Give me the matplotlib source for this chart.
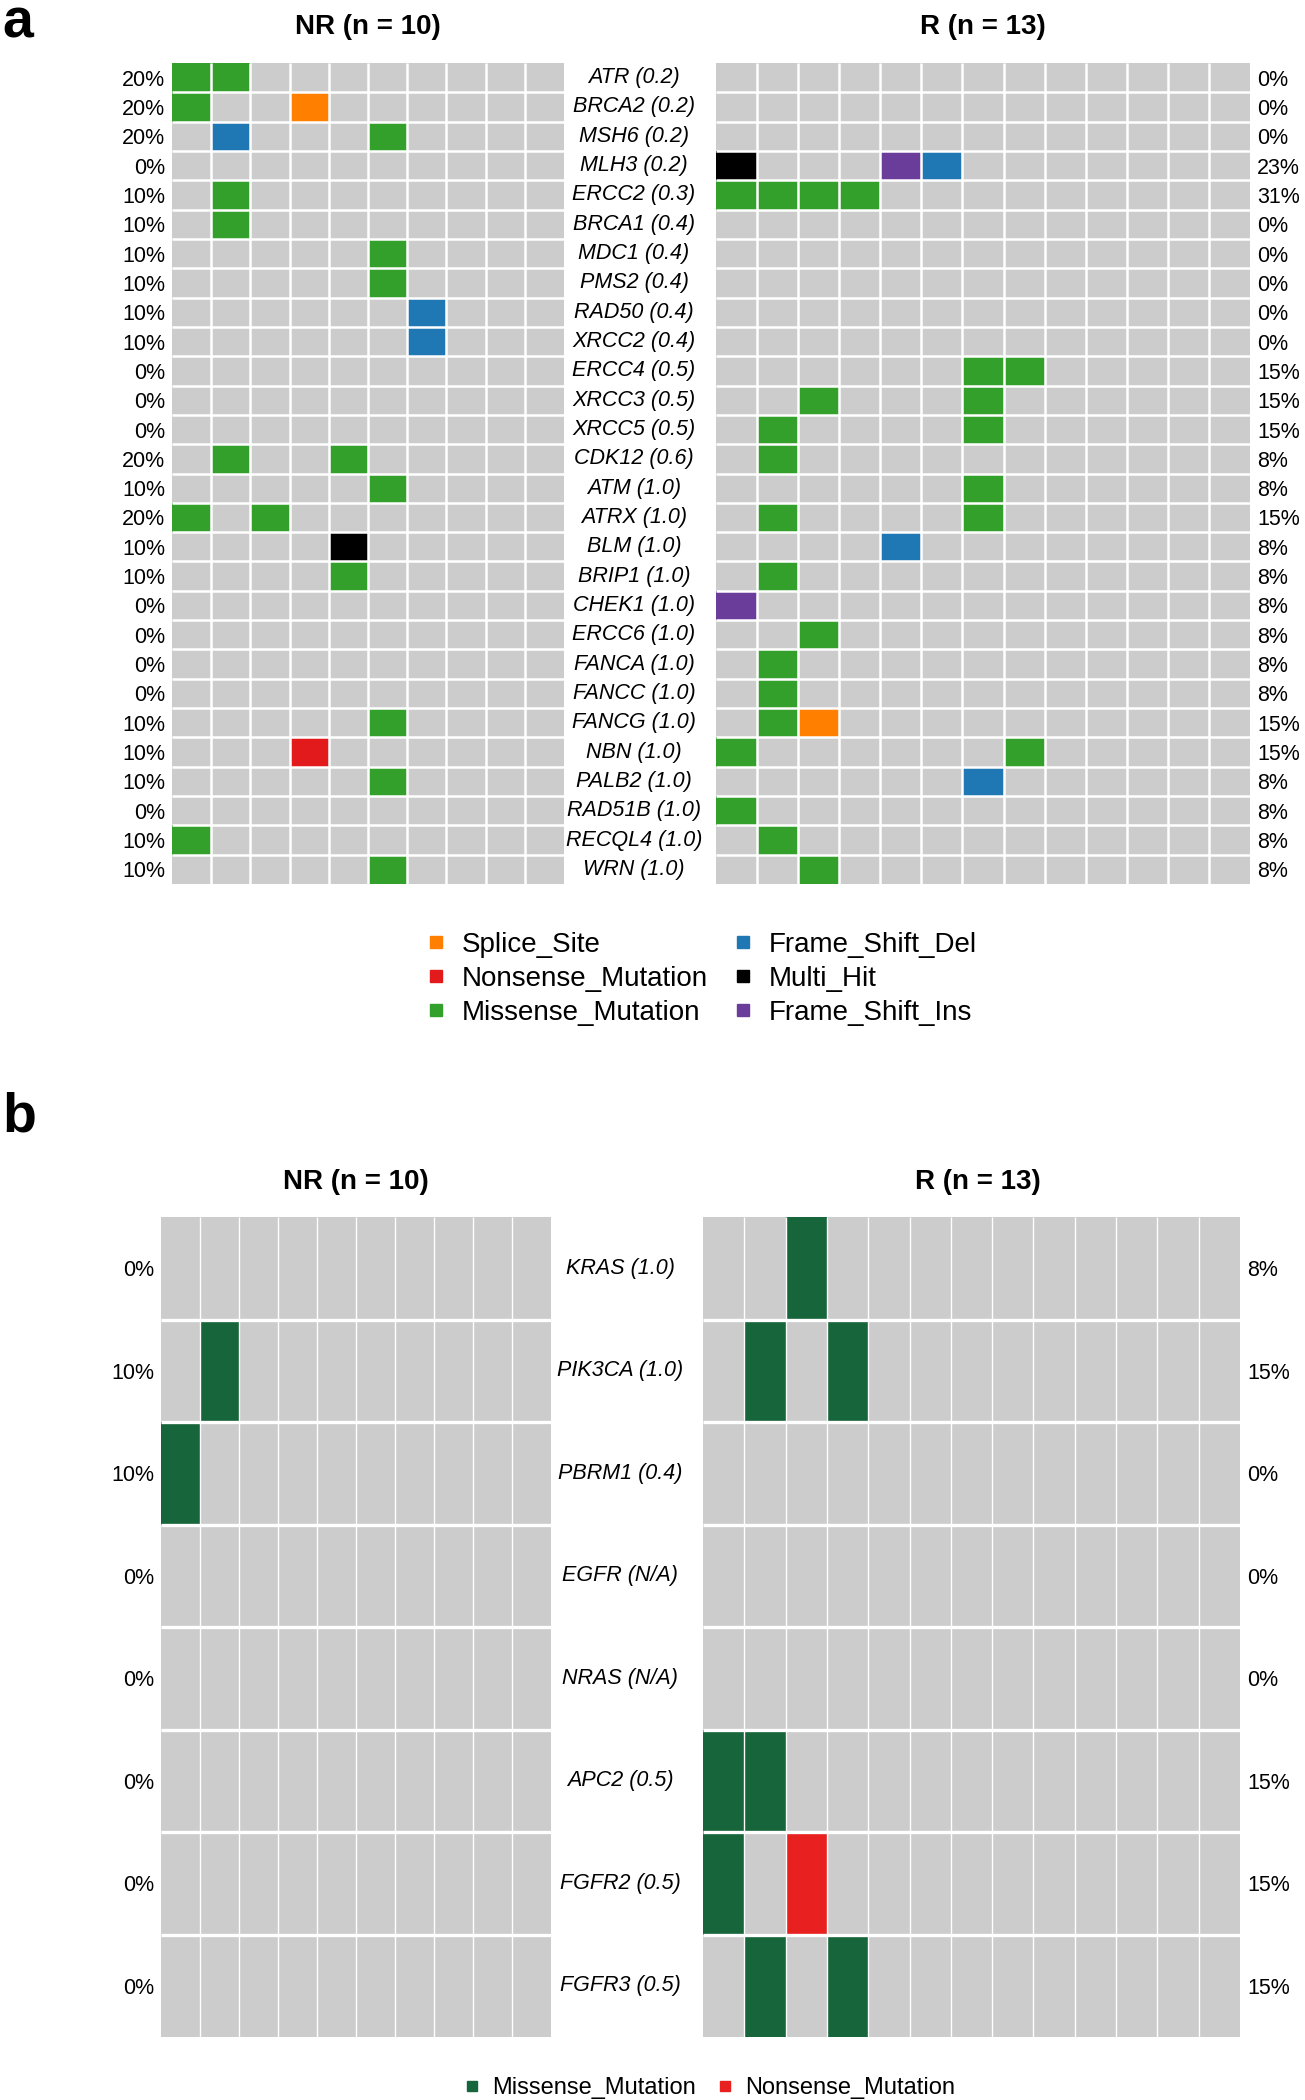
import matplotlib
matplotlib.use('Agg')
import matplotlib.pyplot as plt
import numpy as np
from matplotlib.colors import ListedColormap, BoundaryNorm
from matplotlib.lines import Line2D

plt.rcParams['font.family'] = ['Liberation Sans', 'DejaVu Sans']

W, H = 1305, 2100

# ---- panel a: DNA damage repair genes ----
genes_a = ['ATR (0.2)', 'BRCA2 (0.2)', 'MSH6 (0.2)', 'MLH3 (0.2)', 'ERCC2 (0.3)',
           'BRCA1 (0.4)', 'MDC1 (0.4)', 'PMS2 (0.4)', 'RAD50 (0.4)', 'XRCC2 (0.4)',
           'ERCC4 (0.5)', 'XRCC3 (0.5)', 'XRCC5 (0.5)', 'CDK12 (0.6)', 'ATM (1.0)',
           'ATRX (1.0)', 'BLM (1.0)', 'BRIP1 (1.0)', 'CHEK1 (1.0)', 'ERCC6 (1.0)',
           'FANCA (1.0)', 'FANCC (1.0)', 'FANCG (1.0)', 'NBN (1.0)', 'PALB2 (1.0)',
           'RAD51B (1.0)', 'RECQL4 (1.0)', 'WRN (1.0)']

# one string per gene, one char per patient
# . none, S splice, N nonsense, M missense, D frame shift del, H multi hit, I frame shift ins
nr_a = ['MM........', 'M..S......', '.D...M....', '..........', '.M........',
        '.M........', '.....M....', '.....M....', '......D...', '......D...',
        '..........', '..........', '..........', '.M..M.....', '.....M....',
        'M.M.......', '....H.....', '....M.....', '..........', '..........',
        '..........', '..........', '.....M....', '...N......', '.....M....',
        '..........', 'M.........', '.....M....']
r_a = ['.............', '.............', '.............', 'H...ID.......', 'MMMM.........',
       '.............', '.............', '.............', '.............', '.............',
       '......MM.....', '..M...M......', '.M....M......', '.M...........', '......M......',
       '.M....M......', '....D........', '.M...........', 'I............', '..M..........',
       '.M...........', '.M...........', '.MS..........', 'M......M.....', '......D......',
       'M............', '.M...........', '..M..........']

codes_a = ['.', 'S', 'N', 'M', 'D', 'H', 'I']
colors_a = ['#CCCCCC', '#FF7F00', '#E31A1C', '#33A02C', '#1F78B4', '#000000', '#6A3D9A']
legend_a = ['Splice_Site', 'Nonsense_Mutation', 'Missense_Mutation',
            'Frame_Shift_Del', 'Multi_Hit', 'Frame_Shift_Ins']
legend_a_codes = ['S', 'N', 'M', 'D', 'H', 'I']

# ---- panel b ----
genes_b = ['KRAS (1.0)', 'PIK3CA (1.0)', 'PBRM1 (0.4)', 'EGFR (N/A)',
           'NRAS (N/A)', 'APC2 (0.5)', 'FGFR2 (0.5)', 'FGFR3 (0.5)']
nr_b = ['..........', '.M........', 'M.........', '..........',
        '..........', '..........', '..........', '..........']
r_b = ['..M..........', '.M.M.........', '.............', '.............',
       '.............', 'MM...........', 'M.N..........', '.M.M.........']

codes_b = ['.', 'M', 'N']
colors_b = ['#CCCCCC', '#17653A', '#E8201F']
legend_b = ['Missense_Mutation', 'Nonsense_Mutation']
legend_b_codes = ['M', 'N']


def box(x0, y0, x1, y1):
    return [x0 / W, 1 - y1 / H, (x1 - x0) / W, (y1 - y0) / H]


def draw_grid(ax, rows, codes, colors, hlw, vlw, fs, right=False):
    mat = np.array([[codes.index(c) for c in r] for r in rows])
    cmap = ListedColormap(colors)
    norm = BoundaryNorm(np.arange(len(colors) + 1) - 0.5, len(colors))
    ax.pcolormesh(mat, cmap=cmap, norm=norm)
    nrow, ncol = mat.shape
    ax.set_xlim(0, ncol)
    ax.set_ylim(nrow, 0)
    ax.vlines(np.arange(1, ncol), 0, nrow, color='white', lw=vlw)
    ax.hlines(np.arange(1, nrow), 0, ncol, color='white', lw=hlw)
    for s in ax.spines.values():
        s.set_visible(False)
    ax.set_xticks([])
    pct = (mat > 0).sum(axis=1) / ncol * 100
    ax.set_yticks(np.arange(nrow) + 0.5)
    ax.set_yticklabels([f'{p:.0f}%' for p in pct], fontsize=fs)
    if right:
        ax.yaxis.tick_right()
    ax.tick_params(length=0, pad=5)


fig = plt.figure(figsize=(W / 100, H / 100), dpi=100)

# panel a
ax1 = fig.add_axes(box(172, 63, 564, 884))
ax2 = fig.add_axes(box(716, 63, 1250, 884))
draw_grid(ax1, nr_a, codes_a, colors_a, 1.8, 1.8, 15.5)
draw_grid(ax2, r_a, codes_a, colors_a, 1.8, 1.8, 15.5, right=True)
for i, g in enumerate(genes_a):
    ax1.text((634 - 172) / 392, i + 0.5, g, transform=ax1.get_yaxis_transform(),
             ha='center', va='center', style='italic', fontsize=15.5)
fig.text(368 / W, 1 - 27 / H, 'NR (n = 10)', ha='center', va='center', fontsize=20, fontweight='bold')
fig.text(983 / W, 1 - 27 / H, 'R (n = 13)', ha='center', va='center', fontsize=20, fontweight='bold')
fig.text(0.002, 1 - 38 / H, 'a', ha='left', va='baseline', fontsize=40, fontweight='bold')

handles = [Line2D([], [], marker='s', linestyle='', markersize=8,
                  color=colors_a[codes_a.index(c)]) for c in legend_a_codes]
fig.legend(handles, legend_a, ncol=2, loc='upper left', bbox_to_anchor=(429 / W, 1 - 932 / H),
           frameon=False, fontsize=20, handlelength=0.5, handletextpad=0.68,
           columnspacing=1.0, labelspacing=0.28, borderpad=0, borderaxespad=0)

# panel b
ax3 = fig.add_axes(box(161, 1217, 551, 2037))
ax4 = fig.add_axes(box(703, 1217, 1240, 2037))
draw_grid(ax3, nr_b, codes_b, colors_b, 2.4, 1.0, 15.5)
draw_grid(ax4, r_b, codes_b, colors_b, 2.4, 1.0, 15.5, right=True)
for i, g in enumerate(genes_b):
    ax3.text((620 - 161) / 390, i + 0.5, g, transform=ax3.get_yaxis_transform(),
             ha='center', va='center', style='italic', fontsize=15.5)
fig.text(356 / W, 1 - 1182 / H, 'NR (n = 10)', ha='center', va='center', fontsize=20, fontweight='bold')
fig.text(978 / W, 1 - 1182 / H, 'R (n = 13)', ha='center', va='center', fontsize=20, fontweight='bold')
fig.text(0.002, 1 - 1132 / H, 'b', ha='left', va='baseline', fontsize=40, fontweight='bold')

handles_b = [Line2D([], [], marker='s', linestyle='', markersize=7,
                    color=colors_b[codes_b.index(c)]) for c in legend_b_codes]
fig.legend(handles_b, legend_b, ncol=2, loc='center left', bbox_to_anchor=(466 / W, 1 - 2088 / H),
           frameon=False, fontsize=17, handlelength=0.5, handletextpad=0.6,
           columnspacing=1.0, borderpad=0, borderaxespad=0)

fig.savefig('out.png', dpi=100)
